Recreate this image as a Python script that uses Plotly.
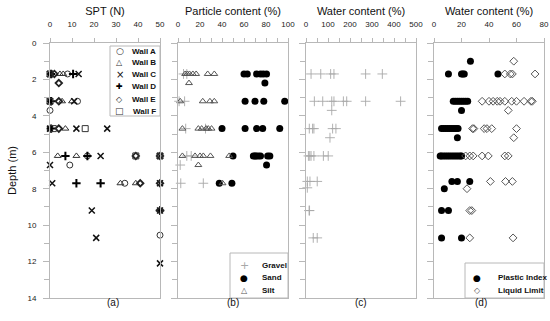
import plotly.graph_objects as go

# ---------------- data ----------------
# Panel (a): SPT (N) by wall
wallA_depth = [1.7, 3.2, 3.7, 4.7, 6.2, 6.7, 7.7, 10.55]
wallA_spt = [8, 12.5, 0, 0, 17, 9, 34, 50]
wallB_depth = [1.7, 1.7, 3.2, 3.2, 4.7, 6.2, 6.2, 7.7, 7.7]
wallB_spt = [4.5, 6, 5.5, 10, 7, 3.5, 12, 32, 39]
wallC_depth = [1.7, 1.7, 3.2, 3.2, 4.7, 4.7, 4.7, 6.2, 6.2, 6.7, 7.7, 7.7, 9.2, 9.2, 10.7, 12.1]
wallC_spt = [0, 13, 0, 11, 0, 12, 26, 23, 50, 0, 1, 50, 19, 50, 21, 50]
wallD_depth = [1.7, 1.7, 3.2, 4.7, 6.2, 6.2, 7.7, 7.7, 9.2]
wallD_spt = [0.5, 10.5, 0.5, 0.5, 7, 17, 12, 23, 50]
wallE_depth = [1.7, 2.2, 3.2, 4.7, 6.2, 6.2, 7.7, 7.7, 9.2]
wallE_spt = [2, 4, 4, 4, 39, 50, 41, 50, 50]
wallF_depth = [1.7, 3.2, 4.7, 4.7, 6.2, 6.2]
wallF_spt = [0, 0, 1.5, 16, 39, 50]

# Panel (b): particle content (%)
gravel_depth = [1.7, 1.7, 3.2, 3.2, 4.7, 4.7, 6.2, 6.2, 6.7, 7.7, 7.7]
gravel_pct = [5, 8, 1, 6, 7, 25, 8, 12, 2, 2.5, 23]
sand_depth = [1.7, 1.7, 1.7, 1.7, 1.7, 1.7, 2.2,
              3.2, 3.2, 3.2, 3.2,
              4.7, 4.7, 4.7, 4.7, 4.7,
              6.2, 6.2, 6.2, 6.2, 6.2, 6.2, 6.2, 6.2,
              6.7, 7.7, 7.7]
sand_pct = [60, 63, 71.5, 75, 77.5, 80.5, 79,
            61, 70, 78, 97,
            40, 61, 71.5, 77, 92.5,
            50, 68.5, 70, 71, 73, 75, 81.5, 83.5,
            80.5, 37.5, 49]
silt_depth = [1.7, 1.7, 1.7, 1.7, 1.7, 1.7, 1.7, 2.2,
              3.2, 3.2, 3.2, 3.2,
              4.7, 4.7, 4.7, 4.7, 4.7, 4.7,
              6.2, 6.2, 6.2, 6.2, 6.2, 6.2,
              6.7, 7.7]
silt_pct = [6.5, 8.5, 10.5, 13.5, 16.5, 27, 33, 10,
            2, 22.5, 29, 33,
            4, 18.5, 21.5, 25.5, 27.5, 30.5,
            4, 15.5, 20, 23, 29.5, 46.5,
            18.5, 40.5]

# Panel (c): water content (%)
wc_depth = [1.7, 1.7, 1.7, 1.7, 1.7, 1.7,
            3.2, 3.2, 3.2, 3.2, 3.2, 3.2, 3.2, 3.2,
            3.7, 4.7, 4.7, 4.7, 4.7, 4.7, 5.2,
            6.2, 6.2, 6.2, 6.2, 6.2, 6.2,
            7.6, 7.6, 7.6, 7.95, 9.2, 9.2, 10.7, 10.7]
wc_pct = [23, 67, 112, 127, 271, 347,
          38, 76, 117, 127, 170, 185, 271, 430,
          117, 15, 30, 36, 121, 136, 109,
          11, 17, 23, 36, 79, 101,
          6, 18, 51, 6, 14, 16, 33, 51]

# Panel (d): Atterberg limits (%)
pi_depth = [1.0, 1.7, 1.7, 1.7, 1.7, 1.7,
            3.2, 3.2, 3.2, 3.2, 3.2, 3.2, 3.2, 3.2, 3.7,
            4.7, 4.7, 4.7, 4.7, 4.7, 4.7, 4.7, 4.7, 4.7, 5.2,
            6.2, 6.2, 6.2, 6.2, 6.2, 6.2, 6.2, 6.2, 6.2, 6.2, 6.2, 6.2,
            7.6, 7.6, 7.6, 8.0, 9.2, 9.2, 10.7, 10.7]
pi_pct = [26.5, 10.5, 20, 21, 22, 46.5,
          14, 15.5, 17, 18.5, 20, 21.5, 23, 24.5, 20,
          5.5, 7, 8.5, 10, 11.5, 13, 14.5, 16, 17.5, 17,
          4.5, 5.5, 7, 8.5, 10, 11.5, 13, 14.5, 16, 17.5, 19, 20,
          13, 17, 26, 7.5, 5.5, 10.5, 5.5, 20]
ll_depth = [1.0, 1.7, 1.7, 1.7, 1.7,
            3.2, 3.2, 3.2, 3.2, 3.2, 3.2, 3.2, 3.2, 3.2, 3.2, 3.2, 3.7,
            4.7, 4.7, 4.7, 4.7, 4.7, 4.7, 5.2,
            6.2, 6.2, 6.2, 6.2, 6.2, 6.2, 6.2,
            7.6, 7.6, 7.6, 8.0, 9.2, 9.2, 10.7, 10.7]
ll_pct = [58, 51.5, 55.5, 57, 73.5,
          35, 40, 43, 46, 48, 51.5, 56.5, 60, 65.5, 70.5, 71.5, 54,
          28, 29, 36.5, 38.5, 42, 60, 58,
          23, 26, 28.5, 35, 39.5, 51.5, 54,
          41, 52, 57, 24, 26, 27.5, 26, 57.5]

panel_titles = ["SPT (N)", "Particle content (%)", "Water content (%)", "Water content (%)"]
panel_labels = ["(a)", "(b)", "(c)", "(d)"]
wall_names = ["Wall A", "Wall B", "Wall C", "Wall D", "Wall E", "Wall F"]
particle_names = ["Gravel", "Sand", "Silt"]
limit_names = ["Plastic Index", "Liquid Limit"]

# ---------------- figure ----------------
FONT = "Liberation Sans, Arial, sans-serif"
AX = "#b8b8b8"
GRAV = "#a8a8a8"
fig = go.Figure()

def add(x, y, name, axis, symbol, color, size, lw):
    xa = "x" if axis == 1 else f"x{axis}"
    ya = "y" if axis == 1 else f"y{axis}"
    marker = dict(symbol=symbol, size=size, color=color, line=dict(width=lw, color=color))
    fig.add_trace(go.Scatter(x=x, y=y, mode="markers", name=name, xaxis=xa, yaxis=ya,
                             showlegend=False, marker=marker, cliponaxis=False))

add(wallA_spt, wallA_depth, wall_names[0], 1, "circle-open", "#333", 6, 1)
add(wallB_spt, wallB_depth, wall_names[1], 1, "triangle-up-open", "#333", 6, 1)
add(wallC_spt, wallC_depth, wall_names[2], 1, "x-thin-open", "#111", 6, 1.5)
add(wallD_spt, wallD_depth, wall_names[3], 1, "cross-thin-open", "#000", 6, 2)
add(wallE_spt, wallE_depth, wall_names[4], 1, "diamond-open", "#222", 5, 1.8)
add(wallF_spt, wallF_depth, wall_names[5], 1, "square-open", "#333", 6, 1)

add(gravel_pct, gravel_depth, particle_names[0], 2, "cross-thin-open", GRAV, 7, 0.9)
add(sand_pct, sand_depth, particle_names[1], 2, "circle", "#000", 7, 0)
add(silt_pct, silt_depth, particle_names[2], 2, "triangle-up-open", "#555", 6, 1)

add(wc_pct, wc_depth, "Water content", 3, "cross-thin-open", GRAV, 7, 0.9)

add(pi_pct, pi_depth, limit_names[0], 4, "circle", "#000", 7, 0)
add(ll_pct, ll_depth, limit_names[1], 4, "diamond-open", "#555", 6, 1)

ML, MT, PW, PH = 50, 43, 494.0, 255.0
def px(xp):
    return (xp - ML) / PW
def py(yp):
    return 1 - (yp - MT) / PH

doms = [[0, 110 / PW], [128 / PW, 238 / PW], [256 / PW, 366 / PW], [384 / PW, 1.0]]
ranges = [[0, 50], [0, 100], [0, 500], [0, 80]]
dticks = [10, 20, 100, 20]
minor_dt = [None, 10, 50, None]

for i in range(4):
    k = "" if i == 0 else str(i + 1)
    xa = dict(domain=doms[i], range=ranges[i], side="top", anchor="y" + k,
              showgrid=False, zeroline=False, showline=True, linecolor=AX, linewidth=1,
              mirror=True, ticks="outside", ticklen=4, tickcolor=AX, dtick=dticks[i],
              tick0=0, ticklabelstandoff=8,
              tickfont=dict(size=8, family=FONT, color="#222"),
              title=dict(text=panel_titles[i], font=dict(size=11, family=FONT, color="#111"),
                         standoff=1))
    if minor_dt[i]:
        xa["minor"] = dict(dtick=minor_dt[i], ticks="outside", ticklen=4, tickcolor=AX)
    ya = dict(range=[14, 0], anchor="x" + k, showgrid=False, zeroline=False,
              showline=True, linecolor=AX, linewidth=1, mirror=True,
              ticks="outside", ticklen=6, tickcolor=AX, dtick=2, tick0=0,
              minor=dict(dtick=1, ticks="outside", ticklen=5, tickcolor=AX),
              tickfont=dict(size=8, family=FONT, color="#222"),
              ticklabelstandoff=5,
              showticklabels=(i == 0))
    if i == 0:
        ya["title"] = dict(text="Depth (m)", font=dict(size=11, family=FONT, color="#111"),
                           standoff=8)
    fig.layout["xaxis" + k] = xa
    fig.layout["yaxis" + k] = ya
    fig.add_annotation(text=panel_labels[i], xref="paper", yref="paper",
                       x=(doms[i][0] + doms[i][1]) / 2, y=0, yshift=-12,
                       showarrow=False, font=dict(size=10, family=FONT, color="#111"))

# ---------------- custom compact legends ----------------
def legend_box(x0, x1, y0, y1, entries, sym_x, lab_x, lab_anchor):
    fig.add_shape(type="rect", xref="paper", yref="paper", x0=px(x0), x1=px(x1),
                  y0=py(y1), y1=py(y0), line=dict(color=AX, width=1), fillcolor="white",
                  layer="above")
    for glyph, color, gsize, label, ypos in entries:
        fig.add_annotation(text=glyph, xref="paper", yref="paper", x=px(sym_x), y=py(ypos),
                           xanchor="center", yanchor="middle", showarrow=False,
                           font=dict(size=gsize, family="DejaVu Sans", color=color))
        fig.add_annotation(text="<b>" + label + "</b>", xref="paper", yref="paper",
                           x=px(lab_x), y=py(ypos), xanchor=lab_anchor, yanchor="middle",
                           showarrow=False, font=dict(size=8, family=FONT, color="#111"))

wall_glyphs = [("○", "#333", 9), ("△", "#333", 8), ("×", "#111", 10),
               ("✚", "#000", 8), ("◇", "#222", 8), ("□", "#333", 9)]
wall_rows = [51, 62.5, 74, 86.5, 99, 111.5]
legend_box(110, 160, 46, 116,
           [(g, c, s, n, r) for (g, c, s), n, r in zip(wall_glyphs, wall_names, wall_rows)],
           119.5, 158, "right")

part_glyphs = [("+", GRAV, 11), ("●", "#000", 9), ("△", "#555", 8)]
legend_box(230, 288, 253, 298,
           [(g, c, s, n, r) for (g, c, s), n, r in zip(part_glyphs, particle_names, [265.5, 277.5, 290])],
           244, 260, "left")

lim_glyphs = [("●", "#000", 9), ("◇", "#555", 8)]
legend_box(465, 544, 263, 298,
           [(g, c, s, n, r) for (g, c, s), n, r in zip(lim_glyphs, limit_names, [277.5, 290.5])],
           477, 496, "left")

fig.update_layout(
    width=550, height=321,
    margin=dict(l=ML, r=6, t=MT, b=23, autoexpand=False),
    paper_bgcolor="white", plot_bgcolor="white",
    font=dict(family=FONT),
    showlegend=False,
)

fig.write_html("out.html", config={"displayModeBar": False},
               post_script="document.body.style.margin='0';document.body.style.overflow='hidden';")
